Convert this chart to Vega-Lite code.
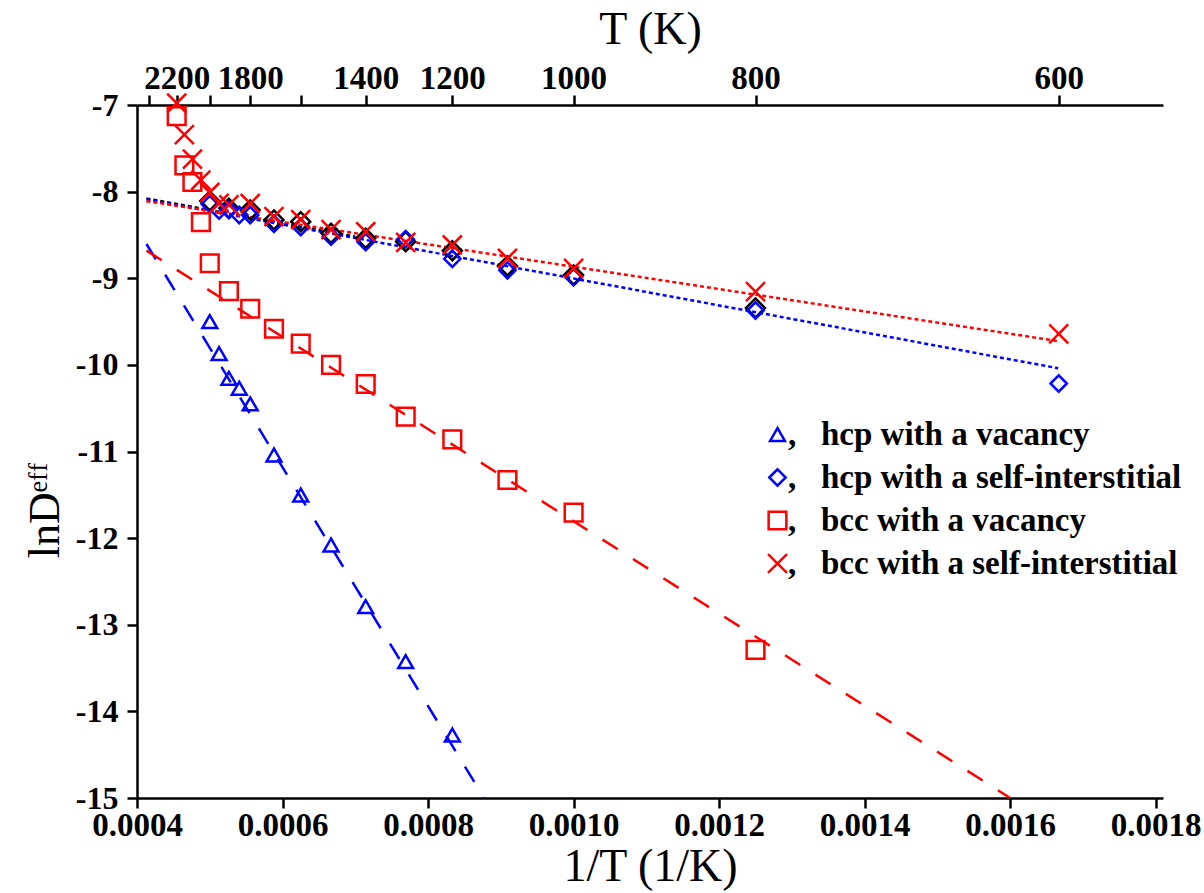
{
  "$schema": "https://vega.github.io/schema/vega-lite/v6.json",
  "width": 1026,
  "height": 693,
  "autosize": {"type": "none"},
  "padding": {"left": 137, "top": 105, "right": 41, "bottom": 95},
  "background": "white",
  "config": {
    "view": {"stroke": null},
    "font": "Liberation Serif",
    "axis": {
      "domainColor": "black", "domainWidth": 2.5, "tickColor": "black", "tickWidth": 2.5, "tickSize": 10,
      "labelColor": "black", "titleColor": "black", "labelFont": "Liberation Serif", "titleFont": "Liberation Serif",
      "labelFontWeight": "bold", "labelFontSize": 33, "titleFontSize": 46, "titleFontWeight": "normal",
      "grid": false, "labelOverlap": false, "labelFlush": false
    }
  },
  "datasets": {
    "fits": [
      {"fit": "hcp vac fit", "x": 0.000413, "y": -8.6045},
      {"fit": "hcp vac fit", "x": 0.000877, "y": -15.0},
      {"fit": "bcc vac fit", "x": 0.000413, "y": -8.681},
      {"fit": "bcc vac fit", "x": 0.0016, "y": -15.0},
      {"fit": "black fit", "x": 0.000413, "y": -8.08},
      {"fit": "black fit", "x": 0.0007, "y": -8.52},
      {"fit": "hcp SIA fit", "x": 0.000413, "y": -8.089},
      {"fit": "hcp SIA fit", "x": 0.001666, "y": -10.039},
      {"fit": "bcc SIA fit", "x": 0.000413, "y": -8.11},
      {"fit": "bcc SIA fit", "x": 0.001666, "y": -9.726}
    ],
    "black": [
      {"x": 0.0005, "y": -8.108},
      {"x": 0.00052632, "y": -8.192},
      {"x": 0.00055556, "y": -8.212},
      {"x": 0.00058824, "y": -8.327},
      {"x": 0.000625, "y": -8.347},
      {"x": 0.00066667, "y": -8.481},
      {"x": 0.00071429, "y": -8.539},
      {"x": 0.00076923, "y": -8.578},
      {"x": 0.00083333, "y": -8.682},
      {"x": 0.00090909, "y": -8.858},
      {"x": 0.001, "y": -8.962},
      {"x": 0.00125, "y": -9.343}
    ],
    "pts": [
      {"series": "hcp with a vacancy", "x": 0.0005, "y": -9.501},
      {"series": "hcp with a vacancy", "x": 0.00051282, "y": -9.870},
      {"series": "hcp with a vacancy", "x": 0.00052632, "y": -10.155},
      {"series": "hcp with a vacancy", "x": 0.00054054, "y": -10.270},
      {"series": "hcp with a vacancy", "x": 0.00055556, "y": -10.451},
      {"series": "hcp with a vacancy", "x": 0.00058824, "y": -11.040},
      {"series": "hcp with a vacancy", "x": 0.000625, "y": -11.502},
      {"series": "hcp with a vacancy", "x": 0.00066667, "y": -12.079},
      {"series": "hcp with a vacancy", "x": 0.00071429, "y": -12.791},
      {"series": "hcp with a vacancy", "x": 0.00076923, "y": -13.426},
      {"series": "hcp with a vacancy", "x": 0.00083333, "y": -14.273},

      {"series": "hcp with a self-interstitial", "x": 0.0005, "y": -8.143},
      {"series": "hcp with a self-interstitial", "x": 0.00051282, "y": -8.218},
      {"series": "hcp with a self-interstitial", "x": 0.00052632, "y": -8.212},
      {"series": "hcp with a self-interstitial", "x": 0.00054054, "y": -8.270},
      {"series": "hcp with a self-interstitial", "x": 0.00055556, "y": -8.270},
      {"series": "hcp with a self-interstitial", "x": 0.00058824, "y": -8.371},
      {"series": "hcp with a self-interstitial", "x": 0.000625, "y": -8.408},
      {"series": "hcp with a self-interstitial", "x": 0.00066667, "y": -8.520},
      {"series": "hcp with a self-interstitial", "x": 0.00071429, "y": -8.581},
      {"series": "hcp with a self-interstitial", "x": 0.00076923, "y": -8.549},
      {"series": "hcp with a self-interstitial", "x": 0.00083333, "y": -8.775},
      {"series": "hcp with a self-interstitial", "x": 0.00090909, "y": -8.909},
      {"series": "hcp with a self-interstitial", "x": 0.001, "y": -8.989},
      {"series": "hcp with a self-interstitial", "x": 0.00125, "y": -9.372},
      {"series": "hcp with a self-interstitial", "x": 0.00166667, "y": -10.215},

      {"series": "bcc with a vacancy", "x": 0.00045455, "y": -7.129},
      {"series": "bcc with a vacancy", "x": 0.00046512, "y": -7.698},
      {"series": "bcc with a vacancy", "x": 0.00047619, "y": -7.889},
      {"series": "bcc with a vacancy", "x": 0.0004878, "y": -8.353},
      {"series": "bcc with a vacancy", "x": 0.0005, "y": -8.827},
      {"series": "bcc with a vacancy", "x": 0.00052632, "y": -9.149},
      {"series": "bcc with a vacancy", "x": 0.00055556, "y": -9.352},
      {"series": "bcc with a vacancy", "x": 0.00058824, "y": -9.583},
      {"series": "bcc with a vacancy", "x": 0.000625, "y": -9.755},
      {"series": "bcc with a vacancy", "x": 0.00066667, "y": -10.001},
      {"series": "bcc with a vacancy", "x": 0.00071429, "y": -10.221},
      {"series": "bcc with a vacancy", "x": 0.00076923, "y": -10.598},
      {"series": "bcc with a vacancy", "x": 0.00083333, "y": -10.859},
      {"series": "bcc with a vacancy", "x": 0.00090909, "y": -11.329},
      {"series": "bcc with a vacancy", "x": 0.001, "y": -11.706},
      {"series": "bcc with a vacancy", "x": 0.00125, "y": -13.291},

      {"series": "bcc with a self-interstitial", "x": 0.00045455, "y": -6.977},
      {"series": "bcc with a self-interstitial", "x": 0.00046512, "y": -7.342},
      {"series": "bcc with a self-interstitial", "x": 0.00047619, "y": -7.626},
      {"series": "bcc with a self-interstitial", "x": 0.0004878, "y": -7.866},
      {"series": "bcc with a self-interstitial", "x": 0.0005, "y": -8.010},
      {"series": "bcc with a self-interstitial", "x": 0.00051282, "y": -8.135},
      {"series": "bcc with a self-interstitial", "x": 0.00052632, "y": -8.154},
      {"series": "bcc with a self-interstitial", "x": 0.00055556, "y": -8.137},
      {"series": "bcc with a self-interstitial", "x": 0.00058824, "y": -8.289},
      {"series": "bcc with a self-interstitial", "x": 0.000625, "y": -8.322},
      {"series": "bcc with a self-interstitial", "x": 0.00066667, "y": -8.439},
      {"series": "bcc with a self-interstitial", "x": 0.00071429, "y": -8.463},
      {"series": "bcc with a self-interstitial", "x": 0.00076923, "y": -8.587},
      {"series": "bcc with a self-interstitial", "x": 0.00083333, "y": -8.616},
      {"series": "bcc with a self-interstitial", "x": 0.00090909, "y": -8.770},
      {"series": "bcc with a self-interstitial", "x": 0.001, "y": -8.885},
      {"series": "bcc with a self-interstitial", "x": 0.00125, "y": -9.155},
      {"series": "bcc with a self-interstitial", "x": 0.00166667, "y": -9.643}
    ]
  },
  "resolve": {
    "scale": {"color": "independent", "shape": "independent", "strokeDash": "independent", "size": "independent"},
    "axis": {"x": "independent", "y": "independent"}
  },
  "layer": [
    {
      "data": {"name": "fits"},
      "mark": {"type": "line", "strokeWidth": 2.5},
      "encoding": {
        "x": {
          "field": "x", "type": "quantitative",
          "scale": {"domain": [0.0004, 0.00181], "nice": false, "zero": false},
          "axis": {
            "orient": "bottom", "values": [0.0004, 0.0006, 0.0008, 0.001, 0.0012, 0.0014, 0.0016, 0.0018],
            "format": ".4f", "title": "1/T (1/K)", "labelPadding": 1, "titlePadding": 2
          }
        },
        "y": {
          "field": "y", "type": "quantitative",
          "scale": {"domain": [-15, -7], "nice": false, "zero": false},
          "axis": {
            "orient": "left",
            "values": [-7, -8, -9, -10, -11, -12, -13, -14, -15],
            "labelExpr": "'-' + format(abs(datum.value), 'd')",
            "labelFontSize": 32,
            "title": "lnD\u1d49\u1da0\u1da0", "titleFontSize": 44, "titleX": -79, "titleY": 405,
            "titleAlign": "center", "titleBaseline": "alphabetic", "titleAngle": -90, "labelPadding": 9
          }
        },
        "color": {
          "field": "fit", "type": "nominal",
          "scale": {"domain": ["hcp vac fit", "bcc vac fit", "black fit", "hcp SIA fit", "bcc SIA fit"], "range": ["#0000ff", "#ff0000", "#000000", "#0000ff", "#ff0000"]},
          "legend": null
        },
        "strokeDash": {
          "field": "fit", "type": "nominal",
          "scale": {"domain": ["hcp vac fit", "bcc vac fit", "black fit", "hcp SIA fit", "bcc SIA fit"], "range": [[18, 18], [18, 18], [4, 3], [4, 3], [4, 3]]},
          "legend": null
        }
      }
    },
    {
      "data": {"name": "black"},
      "mark": {"type": "point", "shape": "diamond", "filled": false, "color": "#000000", "strokeWidth": 2.5, "size": 360, "opacity": 1},
      "encoding": {
        "x": {
          "field": "x", "type": "quantitative",
          "axis": {
            "orient": "top",
            "values": [0.000416667, 0.000454545, 0.0005, 0.000555556, 0.000625, 0.000714286, 0.000833333, 0.001, 0.00125, 0.001666667],
            "labelExpr": "indexof([2200,1800,1400,1200,1000,800,600], round(1/datum.value)) >= 0 ? format(round(1/datum.value), 'd') : ''",
            "title": "T (K)", "labelPadding": 0, "titlePadding": 9
          }
        },
        "y": {"field": "y", "type": "quantitative", "axis": null}
      }
    },
    {
      "data": {"name": "pts"},
      "mark": {"type": "point", "filled": false, "strokeWidth": 2.5, "opacity": 1},
      "encoding": {
        "x": {"field": "x", "type": "quantitative", "axis": null},
        "y": {"field": "y", "type": "quantitative", "axis": null},
        "size": {
          "field": "series", "type": "nominal",
          "scale": {"domain": ["hcp with a vacancy", "hcp with a self-interstitial", "bcc with a vacancy", "bcc with a self-interstitial"], "range": [220, 360, 210, 230]},
          "legend": null
        },
        "color": {
          "field": "series", "type": "nominal",
          "scale": {"domain": ["hcp with a vacancy", "hcp with a self-interstitial", "bcc with a vacancy", "bcc with a self-interstitial"], "range": ["#0000ff", "#0000ff", "#ff0000", "#ff0000"]},
          "legend": {
            "orient": "none", "legendX": 624, "legendY": 313, "title": null,
            "labelFont": "Liberation Serif", "labelFontSize": 33, "labelFontWeight": "bold", "labelColor": "black",
            "symbolStrokeWidth": 2.5, "symbolSize": 220, "labelOffset": -6, "rowPadding": 9,
            "labelExpr": "',\u00a0\u00a0\u00a0' + datum.label", "labelLimit": 600
          }
        },
        "shape": {
          "field": "series", "type": "nominal",
          "scale": {"domain": ["hcp with a vacancy", "hcp with a self-interstitial", "bcc with a vacancy", "bcc with a self-interstitial"], "range": ["triangle-up", "diamond", "square", "M-1,-1L1,1M1,-1L-1,1"]},
          "legend": {
            "orient": "none", "legendX": 624, "legendY": 313, "title": null,
            "labelFont": "Liberation Serif", "labelFontSize": 33, "labelFontWeight": "bold", "labelColor": "black",
            "symbolStrokeWidth": 2.5, "symbolSize": 220, "labelOffset": -6, "rowPadding": 9,
            "labelExpr": "',\u00a0\u00a0\u00a0' + datum.label", "labelLimit": 600
          }
        }
      }
    }
  ]
}
